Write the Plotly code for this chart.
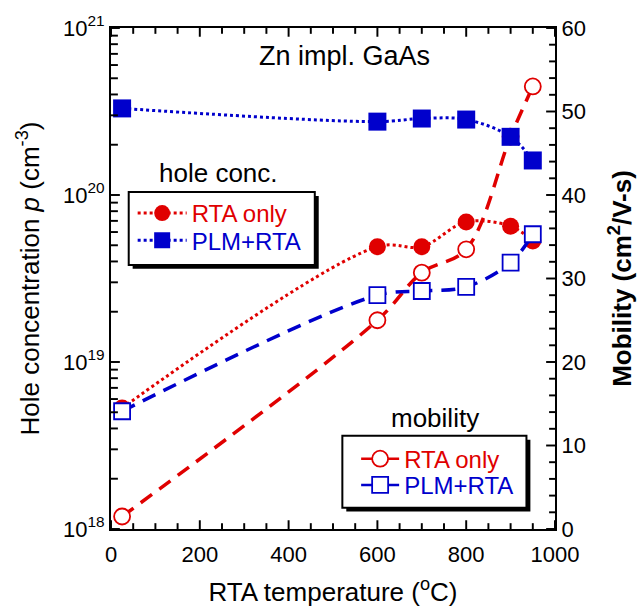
import plotly.graph_objects as go

# RTA temperature (deg C); 25 = as-implanted sample at room temperature
temp_c = [25, 600, 700, 800, 900, 950]

# Hole concentration p (cm^-3)
hole_rta_only = [5.3e18, 4.9e19, 4.9e19, 6.9e19, 6.5e19, 5.3e19]
hole_plm_rta = [3.3e20, 2.75e20, 2.87e20, 2.83e20, 2.23e20, 1.61e20]

# Hall mobility (cm^2/V-s)
mob_rta_only = [1.5, 25.0, 30.7, 33.5, 47.0, 53.0]
mob_plm_rta = [14.1, 28.0, 28.5, 29.0, 31.9, 35.3]

# Axis ticks
x_ticks = [0, 200, 400, 600, 800, 1000]
x_minor = [v for v in range(50, 1000, 50) if v % 200]
p_decades = [1e18, 1e19, 1e20, 1e21]
p_labels = ["10<sup>18</sup>", "10<sup>19</sup>", "10<sup>20</sup>", "10<sup>21</sup>"]
p_minor = [k * 10.0 ** e for e in (18, 19, 20) for k in range(2, 10)]
mob_ticks = [0, 10, 20, 30, 40, 50, 60]
mob_minor = [v for v in range(2, 60, 2) if v % 10]

RED = "#e00000"
BLUE = "#0000cc"
FONT = "Arial, 'Liberation Sans', sans-serif"

W, H = 644, 614
ML, MR, MT, MB = 111, 82, 23, 75
PW, PH = W - ML - MR, H - MT - MB
X_RANGE = (0, 1000)
P_DECADES_SPAN = 3          # log axis covers 1e18 .. 1e21
MOB_RANGE = (0, 60)


def px(x):
    """pixel column -> paper x"""
    return (x - ML) / PW


def py(y):
    """pixel row -> paper y"""
    return (H - MB - y) / PH


fig = go.Figure()

# hole concentration, RTA only (left log axis)
fig.add_trace(go.Scatter(
    x=temp_c, y=hole_rta_only, name="RTA only", yaxis="y", legend="legend",
    mode="lines+markers", line=dict(color=RED, width=3, dash="dot", shape="spline"),
    marker=dict(symbol="circle", size=17, color=RED),
))

# mobility, RTA only (right linear axis)
fig.add_trace(go.Scatter(
    x=temp_c, y=mob_rta_only, yaxis="y2", showlegend=False,
    mode="lines+markers", line=dict(color=RED, width=3.5, dash="14px,9px", shape="spline"),
    marker=dict(symbol="circle", size=16, color="white", line=dict(color=RED, width=1.8)),
))

# mobility, PLM+RTA
fig.add_trace(go.Scatter(
    x=temp_c, y=mob_plm_rta, yaxis="y2", showlegend=False,
    mode="lines+markers", line=dict(color=BLUE, width=3.5, dash="14px,9px", shape="spline"),
    marker=dict(symbol="square", size=16, color="white", line=dict(color=BLUE, width=1.8)),
))

# hole concentration, PLM+RTA (overlay log axis so it sits above the mobility curves)
fig.add_trace(go.Scatter(
    x=temp_c, y=hole_plm_rta, name="PLM+RTA", yaxis="y3", legend="legend2",
    mode="lines+markers", line=dict(color=BLUE, width=3, dash="dot", shape="spline"),
    marker=dict(symbol="square", size=18, color=BLUE),
))

# legend keys for the mobility curves (solid line through an open marker)
fig.add_trace(go.Scatter(
    x=[None], y=[None], name="RTA only", yaxis="y2", legend="legend3",
    mode="lines+markers", line=dict(color=RED, width=2.5),
    marker=dict(symbol="circle", size=16, color="white", line=dict(color=RED, width=1.8)),
))
fig.add_trace(go.Scatter(
    x=[None], y=[None], name="PLM+RTA", yaxis="y2", legend="legend4",
    mode="lines+markers", line=dict(color=BLUE, width=2.5),
    marker=dict(symbol="square", size=16, color="white", line=dict(color=BLUE, width=1.8)),
))

# Inward tick marks drawn as thin filled bars on the axes' own coordinates.
# Half-width of a tick bar is one screen pixel in each axis' units.
X_PIX = (X_RANGE[1] - X_RANGE[0]) / PW
LOG_PIX = 10 ** (P_DECADES_SPAN / PH)
MOB_PIX = (MOB_RANGE[1] - MOB_RANGE[0]) / PH


def bar(**kw):
    return dict(type="rect", layer="above", fillcolor="black", line=dict(width=0), **kw)


def x_tick_marks(vals, length):
    h = length / PH
    out = []
    for v in vals:
        out.append(bar(xref="x", yref="paper", x0=v - X_PIX, x1=v + X_PIX, y0=0, y1=h))
        out.append(bar(xref="x", yref="paper", x0=v - X_PIX, x1=v + X_PIX, y0=1 - h, y1=1))
    return out


def left_tick_marks(vals, length):
    w = length / PW
    return [bar(xref="paper", yref="y", x0=0, x1=w, y0=v / LOG_PIX, y1=v * LOG_PIX)
            for v in vals]


def right_tick_marks(vals, length):
    w = length / PW
    return [bar(xref="paper", yref="y2", x0=1 - w, x1=1, y0=v - MOB_PIX, y1=v + MOB_PIX)
            for v in vals]


tick_shapes = (
    x_tick_marks(x_ticks, 9) + x_tick_marks(x_minor, 6)
    + left_tick_marks(p_decades, 9) + left_tick_marks(p_minor, 7)
    + right_tick_marks(mob_ticks, 9) + right_tick_marks(mob_minor, 6)
)


def box(x0, y0, x1, y1, shadow):
    return [
        dict(type="rect", xref="paper", yref="paper", layer="above",
             x0=px(x0 + shadow), x1=px(x1 + shadow), y0=py(y1 + shadow), y1=py(y0 + shadow),
             fillcolor="black", line=dict(width=0)),
        dict(type="rect", xref="paper", yref="paper", layer="above",
             x0=px(x0), x1=px(x1), y0=py(y1), y1=py(y0),
             fillcolor="white", line=dict(color="black", width=2)),
    ]


def label(text, x, y, size):
    return dict(text=text, x=px(x), y=py(y), xref="paper", yref="paper",
                xanchor="center", yanchor="middle", showarrow=False,
                font=dict(family=FONT, size=size, color="black"))


legend_common = dict(
    xanchor="left", yanchor="middle", bgcolor="rgba(0,0,0,0)", borderwidth=0,
)
tick_font = dict(family=FONT, size=22, color="black")
axis_common = dict(showline=True, linecolor="black", linewidth=2, ticks="",
                   showgrid=False, zeroline=False, tickfont=tick_font)

fig.update_layout(
    width=W, height=H,
    margin=dict(l=ML, r=MR, t=MT, b=MB),
    paper_bgcolor="white", plot_bgcolor="white",
    font=dict(family=FONT, color="black"),
    xaxis=dict(
        axis_common, range=list(X_RANGE), tickmode="array", tickvals=x_ticks,
        mirror=True, ticklabelstandoff=5,
        title=dict(text="RTA temperature (<sup>o</sup>C)",
                   font=dict(family=FONT, size=26), standoff=16),
    ),
    yaxis=dict(
        axis_common, type="log", range=[18, 18 + P_DECADES_SPAN], tickmode="array",
        tickvals=p_decades, ticktext=p_labels,
        title=dict(text="Hole concentration <i>p</i> (cm<sup>-3</sup>)",
                   font=dict(family=FONT, size=26), standoff=16),
    ),
    yaxis2=dict(
        axis_common, overlaying="y", side="right", range=list(MOB_RANGE),
        tickmode="array", tickvals=mob_ticks,
        title=dict(text="<b>Mobility (cm<sup>2</sup>/V-s)</b>",
                   font=dict(family=FONT, size=26), standoff=28),
    ),
    yaxis3=dict(overlaying="y", type="log", range=[18, 18 + P_DECADES_SPAN], visible=False),
    legend=dict(legend_common, x=px(133), y=py(214), itemwidth=49,
                font=dict(family=FONT, size=24, color=RED)),
    legend2=dict(legend_common, x=px(133), y=py(242), itemwidth=49,
                 font=dict(family=FONT, size=24, color=BLUE)),
    legend3=dict(legend_common, x=px(360), y=py(467), itemwidth=38,
                 font=dict(family=FONT, size=24, color=RED)),
    legend4=dict(legend_common, x=px(360), y=py(494), itemwidth=38,
                 font=dict(family=FONT, size=24, color=BLUE)),
    shapes=tick_shapes + box(129, 192, 318, 267, 4) + box(346, 443, 533, 517, 4),
    annotations=[
        label("Zn impl. GaAs", 348, 52, 27),
        label("hole conc.", 220, 172, 26),
        label("mobility", 440, 425, 26),
    ],
)

fig.write_html("out.html")
